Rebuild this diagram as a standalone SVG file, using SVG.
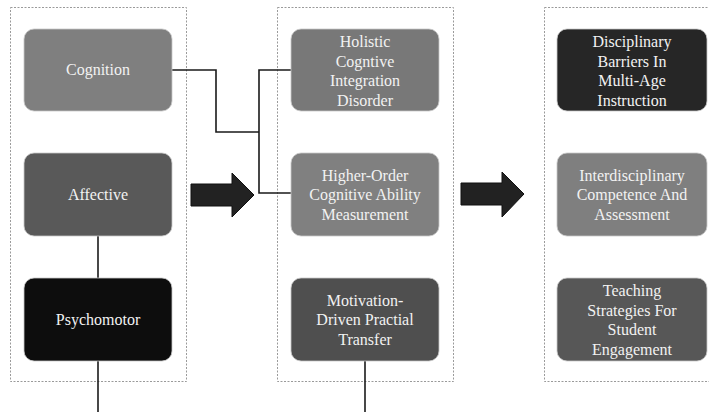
<svg xmlns="http://www.w3.org/2000/svg" width="709" height="412" viewBox="0 0 709 412">
<style>
.frame{fill:none;stroke:#9a9a9a;stroke-width:1;stroke-dasharray:2 1.5}
.box{stroke:#c8c8c8;stroke-width:0.8}
.t{font-family:"Liberation Serif","Times New Roman",serif;font-size:16px;fill:#f2f2f2;text-anchor:middle}
.con{fill:none;stroke:#1a1a1a;stroke-width:1.6}
.big{fill:#222;stroke:#111;stroke-width:1}
</style>
<rect width="709" height="412" fill="#fff"/>
<g id="frames">
<rect class="frame" x="10.5" y="7.5" width="176" height="374"/>
<rect class="frame" x="277.5" y="7.5" width="176" height="374"/>
<rect class="frame" x="544.5" y="7.5" width="176" height="374"/>
</g>
<g id="connectors">
<polyline class="con" points="172,70 216,70 216,132 259,132"/>
<polyline class="con" points="291,70 259,70 259,193 291,193"/>
<line class="con" x1="98" y1="236" x2="98" y2="278"/>
<line class="con" x1="98" y1="361" x2="98" y2="412"/>
<line class="con" x1="365" y1="361" x2="365" y2="412"/>
<polygon class="big" points="191,184 232,184 232,173 254,195 232,217 232,206 191,206"/>
<polygon class="big" points="461,183 502,183 502,172 524,194 502,217 502,205 461,205"/>
</g>
<g id="cognition">
<rect class="box" x="24" y="29" width="148" height="82" rx="10" fill="#7f7f7f"/>
<text class="t" x="98" y="75">Cognition</text>
</g>
<g id="affective">
<rect class="box" x="24" y="153" width="148" height="83" rx="10" fill="#595959"/>
<text class="t" x="98" y="200">Affective</text>
</g>
<g id="psychomotor">
<rect class="box" x="24" y="278" width="148" height="83" rx="10" fill="#0d0d0d"/>
<text class="t" x="98" y="325">Psychomotor</text>
</g>
<g id="holistic">
<rect class="box" x="291" y="29" width="148" height="82" rx="10" fill="#787878"/>
<text class="t" x="365" y="47">Holistic</text>
<text class="t" x="365" y="66.5">Cogntive</text>
<text class="t" x="365" y="86">Integration</text>
<text class="t" x="365" y="105.5">Disorder</text>
</g>
<g id="higher-order">
<rect class="box" x="291" y="153" width="148" height="83" rx="10" fill="#808080"/>
<text class="t" x="365" y="180.5">Higher-Order</text>
<text class="t" x="365" y="200">Cognitive Ability</text>
<text class="t" x="365" y="219.5">Measurement</text>
</g>
<g id="motivation">
<rect class="box" x="291" y="278" width="148" height="83" rx="10" fill="#4f4f4f"/>
<text class="t" x="365" y="305.5">Motivation-</text>
<text class="t" x="365" y="325">Driven Practial</text>
<text class="t" x="365" y="344.5">Transfer</text>
</g>
<g id="disciplinary">
<rect class="box" x="557" y="29" width="150" height="82" rx="10" fill="#262626"/>
<text class="t" x="632" y="47">Disciplinary</text>
<text class="t" x="632" y="66.5">Barriers In</text>
<text class="t" x="632" y="86">Multi-Age</text>
<text class="t" x="632" y="105.5">Instruction</text>
</g>
<g id="interdisciplinary">
<rect class="box" x="557" y="153" width="150" height="83" rx="10" fill="#7f7f7f"/>
<text class="t" x="632" y="180.5">Interdisciplinary</text>
<text class="t" x="632" y="200">Competence And</text>
<text class="t" x="632" y="219.5">Assessment</text>
</g>
<g id="teaching">
<rect class="box" x="557" y="278" width="150" height="83" rx="10" fill="#575757"/>
<text class="t" x="632" y="296">Teaching</text>
<text class="t" x="632" y="315.5">Strategies For</text>
<text class="t" x="632" y="335">Student</text>
<text class="t" x="632" y="354.5">Engagement</text>
</g>
</svg>
